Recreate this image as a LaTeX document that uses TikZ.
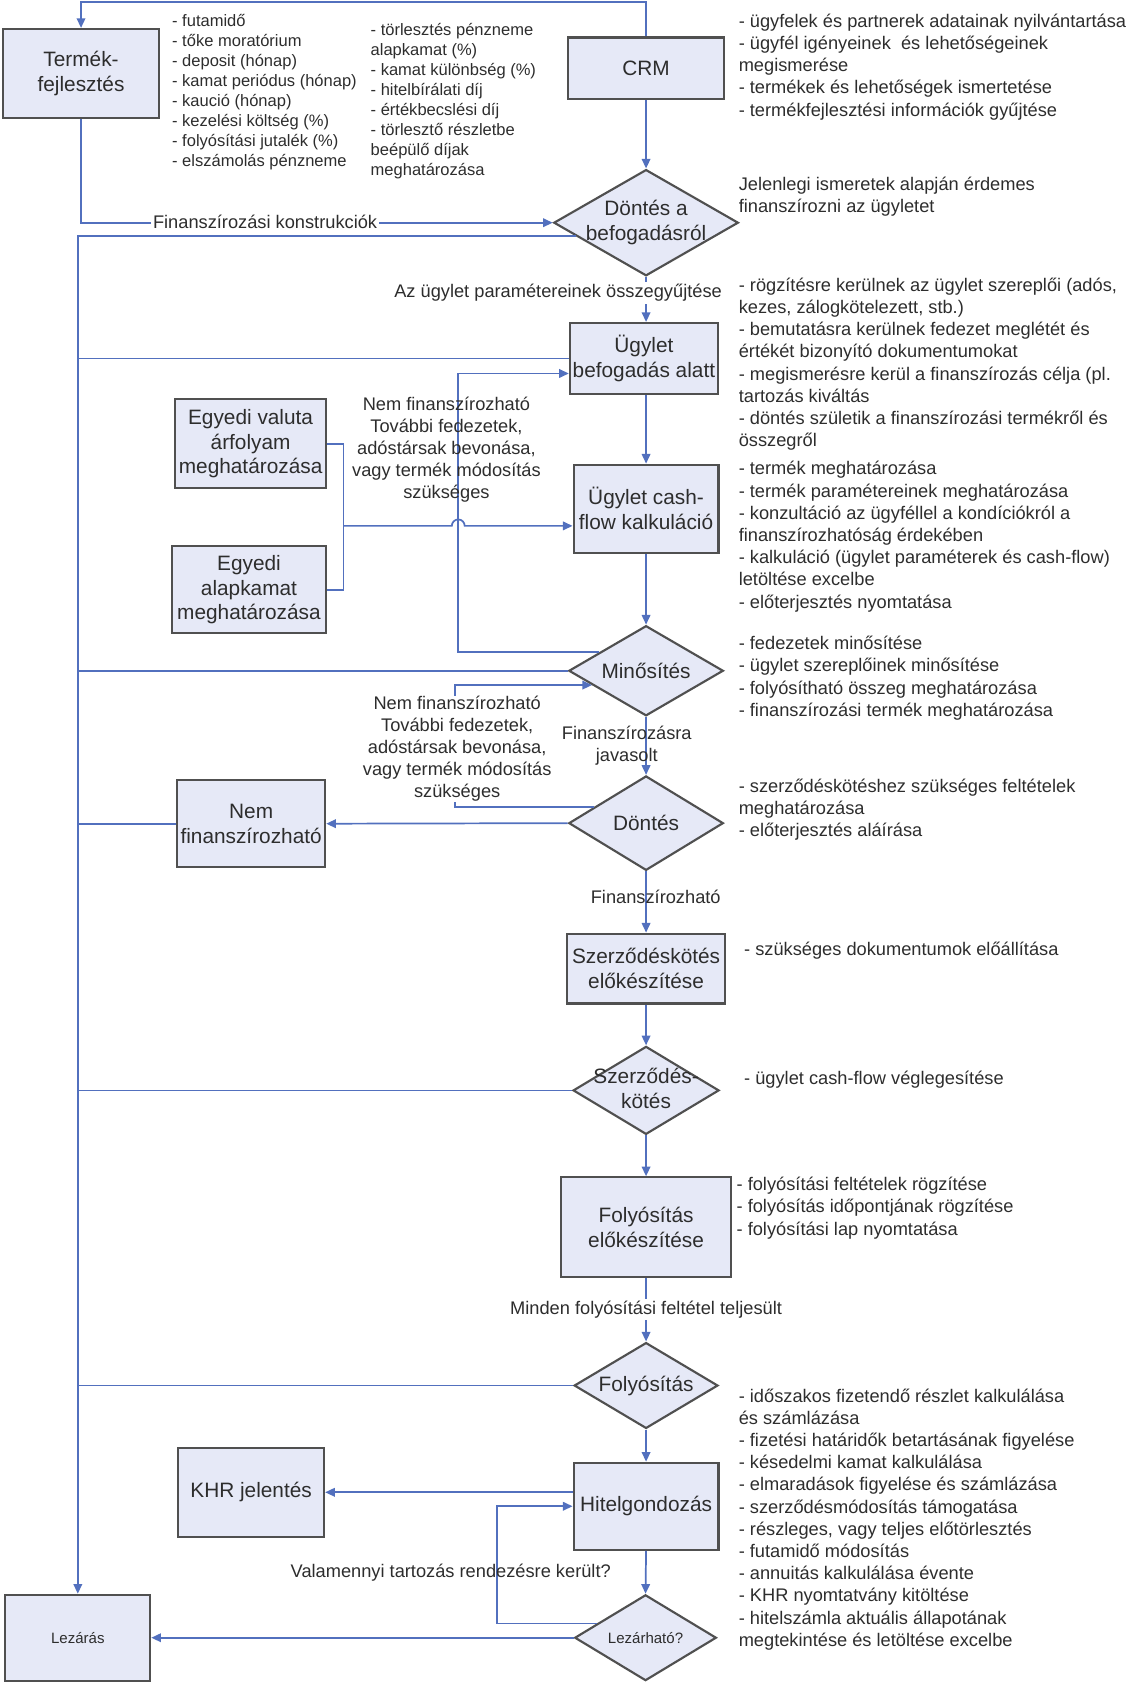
\documentclass[tikz,border=0pt]{standalone}
\usepackage{fontspec}
\setmainfont{Liberation Sans}
\usetikzlibrary{shapes.geometric,arrows.meta,calc}
\definecolor{boxc}{RGB}{230,233,247}
\definecolor{bordc}{RGB}{80,80,80}
\definecolor{linec}{RGB}{82,112,190}
\definecolor{txtc}{RGB}{45,45,45}
\newcommand\bxfont{\fontsize{9.7}{11.5}\selectfont}
\newcommand\smbxfont{\fontsize{7}{8.5}\selectfont}
\newcommand\lbfont{\fontsize{8.5}{10.25}\selectfont}
\newcommand\lsfont{\fontsize{8.5}{10.35}\selectfont}
\newcommand\slsfont{\fontsize{7.7}{9.3}\selectfont}
\newcommand\lstrut{\rule{0pt}{8pt}}
\newcommand\slstrut{\rule{0pt}{7pt}}
\begin{document}
\begin{tikzpicture}[x=0.5pt,y=-0.5pt,
  sz/.style 2 args={minimum width=#1*0.5pt, minimum height=#2*0.5pt},
  box/.style={draw=bordc, line width=1pt, fill=boxc, inner sep=0pt, align=center, font=\bxfont, text=txtc},
  dia/.style={diamond, draw=bordc, line width=1pt, fill=boxc, inner sep=0pt},
  dtxt/.style={inner sep=0pt, align=center, font=\bxfont, text=txtc},
  conn/.style={draw=linec, line width=0.8pt},
  arr/.style={conn, -{Triangle[length=4.5pt,width=4pt]}},
  lbl/.style={font=\lbfont, text=txtc, inner sep=1pt, align=center},
  lblbg/.style={lbl, fill=white},
  lst/.style={font=\lsfont, text=txtc, inner sep=0pt, align=left, anchor=north west},
  slst/.style={font=\slsfont, text=txtc, inner sep=0pt, align=left, anchor=north west}
]
\useasboundingbox (0,0) rectangle (1059,1571);

% ---------- nodes ----------
\node[box, sz={145}{83}] (termek) at (75.5,68.5) {Termék-\\fejlesztés};
\node[box, sz={146}{57}] (crm) at (602,63.5) {CRM};
\node[dia, sz={172}{99}] (d1) at (602,207.5) {};
\node[dtxt] (d1t) at (d1.center) {Döntés a\\befogadásról};
\node[box, sz={138}{66}] (befog) at (600,334) {Ügylet\\befogadás alatt};
\node[box, sz={141}{83}] (valuta) at (233.5,413.5) {Egyedi valuta\\árfolyam\\meghatározása};
\node[box, sz={144}{81}] (alapk) at (232,549.5) {Egyedi\\alapkamat\\meghatározása};
\node[box, sz={135}{82}] (cash) at (602,474) {Ügylet cash-\\flow kalkuláció};
\node[dia, sz={144}{84}] (minos) at (602,625) {};
\node[dtxt] (minost) at (minos.center) {Minősítés};
\node[dia, sz={144}{88}] (dontes) at (602,767) {};
\node[dtxt] (dontest) at (dontes.center) {Döntés};
\node[box, sz={138}{81}] (nemf) at (234,767.5) {Nem\\finanszírozható};
\node[box, sz={147}{65}] (szelo) at (602,902.5) {Szerződéskötés\\előkészítése};
\node[dia, sz={136}{82}] (szk) at (602,1016) {};
\node[dtxt] (szkt) at ([yshift=1pt]szk.center) {Szerződés-\\kötés};
\node[box, sz={158}{93}] (folyelo) at (602,1143.5) {Folyósítás\\előkészítése};
\node[dia, sz={134}{80}] (foly) at (602,1291) {};
\node[dtxt] (folyt) at (foly.center) {Folyósítás};
\node[box, sz={135}{81}] (hitel) at (602,1403.5) {Hitelgondozás};
\node[box, sz={136}{83}] (khr) at (234,1390.5) {KHR jelentés};
\node[dia, sz={132}{80}] (lezh) at (601.5,1526) {};
\node[dtxt, font=\smbxfont] (lezht) at (lezh.center) {Lezárható?};
\node[box, sz={135}{80}, font=\smbxfont] (lez) at (72.5,1526) {Lezárás};

% ---------- helper coordinates ----------
\coordinate (lx1) at (427,0);
\coordinate (lx2) at (424,0);
\coordinate (lx3) at (463,0);
\coordinate (jx) at (320,0);
\coordinate (d1o) at ($(d1.west)!0.25!(d1.south)$);
\coordinate (m1) at ($(minos.west)!0.405!(minos.north)$);
\coordinate (m2) at ($(minos.west)!0.31!(minos.south)$);
\coordinate (d2o) at ($(dontes.west)!0.34!(dontes.north)$);
\coordinate (l3) at ($(lezh.west)!0.325!(lezh.north)$);
\coordinate (cin) at ([yshift=-8pt]cash.west);
\coordinate (bin) at ([yshift=-7pt]befog.west);
\coordinate (hop) at (cin -| lx1);

% ---------- connectors ----------
\draw[arr] (crm.north) -- ++(0,-32) -| (termek.north);
\draw[arr] (termek.south) |- (d1.west);
\draw[arr] (crm.south) -- (d1.north);
\draw[arr] (d1.south) -- (befog.north -| d1.south);
\draw[arr] (d1o) -| (lez.north);
\draw[conn] (befog.west) -- (befog.west -| lez.north);
\draw[arr] (m1) -- (m1 -| lx1) |- (bin);
\draw[conn] (valuta.east) -- (valuta.east -| jx) -- (alapk.east -| jx) -- (alapk.east);
\draw[arr] (cin -| jx) -- ([xshift=-3pt]hop) arc[start angle=180, end angle=0, radius=3pt] -- (cin);
\draw[arr] (befog.south -| cash.north) -- (cash.north);
\draw[arr] (cash.south) -- (minos.north);
\draw[conn] (minos.west) -- (minos.west -| lez.north);
\draw[arr] (minos.south) -- (dontes.north);
\draw[arr] (d2o) -- (d2o -| lx2) |- (m2);
\draw[arr] (dontes.west) -- (nemf.east);
\draw[conn] (nemf.west) -- (nemf.west -| lez.north);
\draw[arr] (dontes.south) -- (szelo.north);
\draw[arr] (szelo.south) -- (szk.north);
\draw[conn] (szk.west) -- (szk.west -| lez.north);
\draw[arr] (szk.south) -- (folyelo.north);
\draw[arr] (folyelo.south) -- (foly.north);
\draw[conn] (foly.west) -- (foly.west -| lez.north);
\draw[arr] (foly.south) -- (hitel.north);
\draw[arr] (hitel.west |- khr.east) -- (khr.east);
\draw[arr] (hitel.south) -- (lezh.north);
\draw[arr] (l3) -- (l3 -| lx3) |- (hitel.west);
\draw[arr] (lezh.west) -- (lez.east);

% ---------- connector labels ----------
\node[lblbg] (lb1) at (247,207) {Finanszírozási konstrukciók};
\node[lblbg] (lb2) at (520,273) {Az ügylet paramétereinek összegyűjtése};
\node[lbl] (lb3) at (416,419) {Nem finanszírozható\\További fedezetek,\\adóstársak bevonása,\\vagy termék módosítás\\szükséges};
\node[lblbg, inner sep=0pt] (lb4) at (426,698) {Nem finanszírozható\\További fedezetek,\\adóstársak bevonása,\\vagy termék módosítás\\szükséges};
\node[lbl] (lb5) at (584,695) {Finanszírozásra\\javasolt};
\node[lbl] (lb6) at (611,836) {Finanszírozható};
\node[lblbg] (lb7) at (602,1220) {Minden folyósítási feltétel teljesült};
\node[lbl] (lb8) at (420,1465) {Valamennyi tartozás rendezésre került?};

% ---------- annotation lists ----------
\node[slst] (p1) at (160,10.5) {\slstrut- futamidő\\- tőke moratórium\\- deposit (hónap)\\- kamat periódus (hónap)\\- kaució (hónap)\\- kezelési költség (\%)\\- folyósítási jutalék (\%)\\- elszámolás pénzneme};
\node[slst] (p2) at (345,18.5) {\slstrut- törlesztés pénzneme\\alapkamat (\%)\\- kamat különbség (\%)\\- hitelbírálati díj\\- értékbecslési díj\\- törlesztő részletbe\\beépülő díjak\\meghatározása};
\node[lst] (t1) at (688,9) {\lstrut- ügyfelek és partnerek adatainak nyilvántartása\\- ügyfél igényeinek \ és lehetőségeinek\\megismerése\\- termékek és lehetőségek ismertetése\\- termékfejlesztési információk gyűjtése};
\node[lst] (t2) at (688,161) {\lstrut Jelenlegi ismeretek alapján érdemes\\finanszírozni az ügyletet};
\node[lst] (t3) at (688,255) {\lstrut- rögzítésre kerülnek az ügylet szereplői (adós,\\kezes, zálogkötelezett, stb.)\\- bemutatásra kerülnek fedezet meglétét és\\értékét bizonyító dokumentumokat\\- megismerésre kerül a finanszírozás célja (pl.\\tartozás kiváltás\\- döntés születik a finanszírozási termékről és\\összegről};
\node[lst] (t4) at (688,426) {\lstrut- termék meghatározása\\- termék paramétereinek meghatározása\\- konzultáció az ügyféllel a kondíciókról a\\finanszírozhatóság érdekében\\- kalkuláció (ügylet paraméterek és cash-flow)\\letöltése excelbe\\- előterjesztés nyomtatása};
\node[lst] (t5) at (688,589) {\lstrut- fedezetek minősítése\\- ügylet szereplőinek minősítése\\- folyósítható összeg meghatározása\\- finanszírozási termék meghatározása};
\node[lst] (t6) at (688,722) {\lstrut- szerződéskötéshez szükséges feltételek\\meghatározása\\- előterjesztés aláírása};
\node[lst] (t7) at (693,874) {\lstrut- szükséges dokumentumok előállítása};
\node[lst] (t8) at (693,994) {\lstrut- ügylet cash-flow véglegesítése};
\node[lst] (t9) at (686,1093) {\lstrut- folyósítási feltételek rögzítése\\- folyósítás időpontjának rögzítése\\- folyósítási lap nyomtatása};
\node[lst] (t10) at (688,1290) {\lstrut- időszakos fizetendő részlet kalkulálása\\és számlázása\\- fizetési határidők betartásának figyelése\\- késedelmi kamat kalkulálása\\- elmaradások figyelése és számlázása\\- szerződésmódosítás támogatása\\- részleges, vagy teljes előtörlesztés\\- futamidő módosítás\\- annuitás kalkulálása évente\\- KHR nyomtatvány kitöltése\\- hitelszámla aktuális állapotának\\megtekintése és letöltése excelbe};
\end{tikzpicture}
\end{document}
